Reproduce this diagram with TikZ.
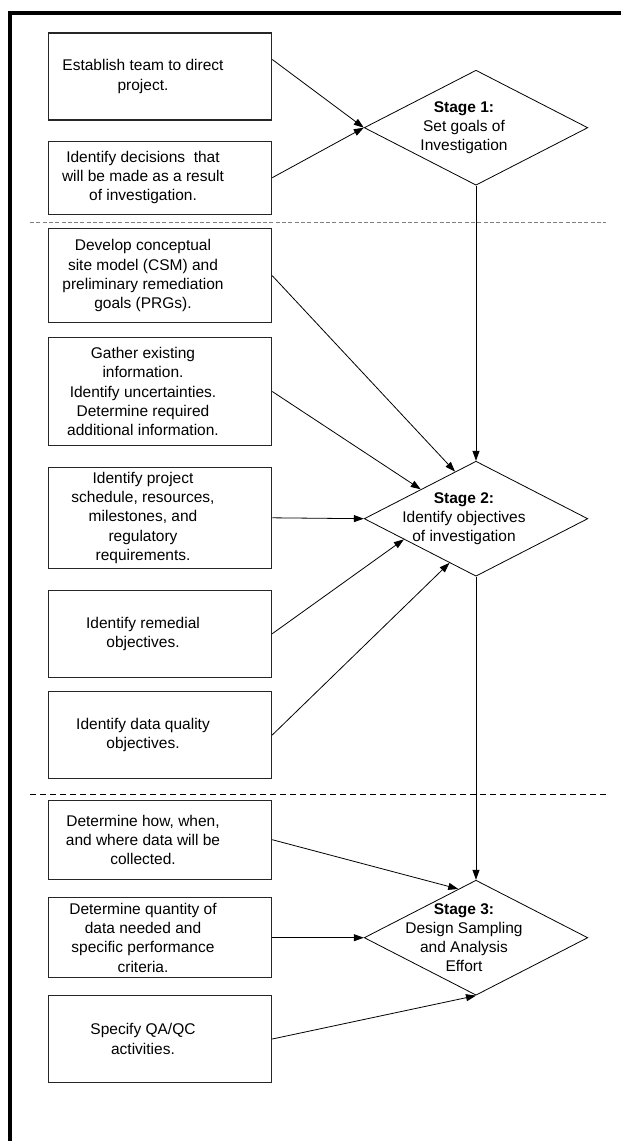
\documentclass[tikz,border=0pt]{standalone}
\usepackage{fontspec}
\setmainfont{Liberation Sans}
\usetikzlibrary{shapes.geometric,arrows.meta}

\begin{document}
\begin{tikzpicture}[x=1pt,y=-1pt,
        task/.style={draw=black!85,line width=1.1pt,minimum width=223.4pt,inner sep=0pt},
        stage/.style={diamond,draw,line width=0.8pt,minimum width=223.6pt,minimum height=115pt,inner sep=0pt},
        taskwords/.style={align=center,inner sep=0pt,xshift=-17pt,font=\fontsize{15.5}{19.2}\selectfont},
        stagewords/.style={taskwords,xshift=5pt},
        flow/.style={-{Triangle[length=10pt,width=7pt]},line width=0.8pt}]
    \useasboundingbox (0,0) rectangle (621,1141);
    \draw[line width=3.5pt] (10,1141) -- (10,13) -- (621,13);
    \draw[gray,line width=1pt,dash pattern=on 4pt off 2.3pt] (30,222) -- (606,222);
    \draw[line width=1pt,dash pattern=on 6pt off 4pt] (30,794) -- (606,794);

    \node[task,minimum height=87pt] (b1) at (160,76.5) {};
    \node[task,minimum height=73.3pt] (b2) at (160,177.7) {};
    \node[task,minimum height=94pt] (b3) at (160,275.7) {};
    \node[task,minimum height=108.4pt] (b4) at (160,391.5) {};
    \node[task,minimum height=101pt] (b5) at (160,517.8) {};
    \node[task,minimum height=86.7pt] (b6) at (160,633.7) {};
    \node[task,minimum height=86.6pt] (b7) at (160,735) {};
    \node[task,minimum height=79.3pt] (b8) at (160,839.7) {};
    \node[task,minimum height=80pt] (b9) at (160,937.7) {};
    \node[task,minimum height=86.6pt] (b10) at (160,1039) {};

    \node[taskwords] (t1) at (b1) {Establish team to direct\\project.};
    \node[taskwords] (t2) at (b2) {Identify decisions\ \ that\\will be made as a result\\of investigation.};
    \node[taskwords] (t3) at (b3) {Develop conceptual\\site model (CSM) and\\preliminary remediation\\goals (PRGs).};
    \node[taskwords] (t4) at (b4) {Gather existing\\information.\\Identify uncertainties.\\Determine required\\additional information.};
    \node[taskwords] (t5) at (b5) {Identify project\\schedule, resources,\\milestones, and\\regulatory\\requirements.};
    \node[taskwords] (t6) at (b6) {Identify remedial\\objectives.};
    \node[taskwords] (t7) at (b7) {Identify data quality\\objectives.};
    \node[taskwords] (t8) at (b8) {Determine how, when,\\and where data will be\\collected.};
    \node[taskwords] (t9) at (b9) {Determine quantity of\\data needed and\\specific performance\\criteria.};
    \node[taskwords] (t10) at (b10) {Specify QA/QC\\activities.};

    \node[stage] (s1) at (476,127.7) {};
    \node[stage] (s2) at (476,518.7) {};
    \node[stage] (s3) at (476,937.7) {};
    \node[stagewords] (w1) at (s1) {\textbf{Stage 1:}\\Set goals of\\Investigation};
    \node[stagewords] (w2) at (s2) {\textbf{Stage 2:}\\Identify objectives\\of investigation};
    \node[stagewords] (w3) at (s3) {\textbf{Stage 3:}\\Design Sampling\\and Analysis\\Effort};

    \draw[flow] ([yshift=17pt]b1.east) -- (s1.west);
    \draw[flow] (b2.east) -- (s1.west);
    \draw[flow] (s1.south) -- (s2.north);
    \draw[flow] (b3.east) -- (s2.114);
    \draw[flow] (b4.east) -- (s2.152);
    \draw[flow] (b5.east) -- (s2.west);
    \draw[flow] (b6.east) -- (s2.196);
    \draw[flow] (b7.east) -- (s2.239);
    \draw[flow] (s2.south) -- (s3.north);
    \draw[flow] (b8.east) -- (s3.110);
    \draw[flow] (b9.east) -- (s3.west);
    \draw[flow] (b10.east) -- (s3.south);
\end{tikzpicture}
\end{document}
